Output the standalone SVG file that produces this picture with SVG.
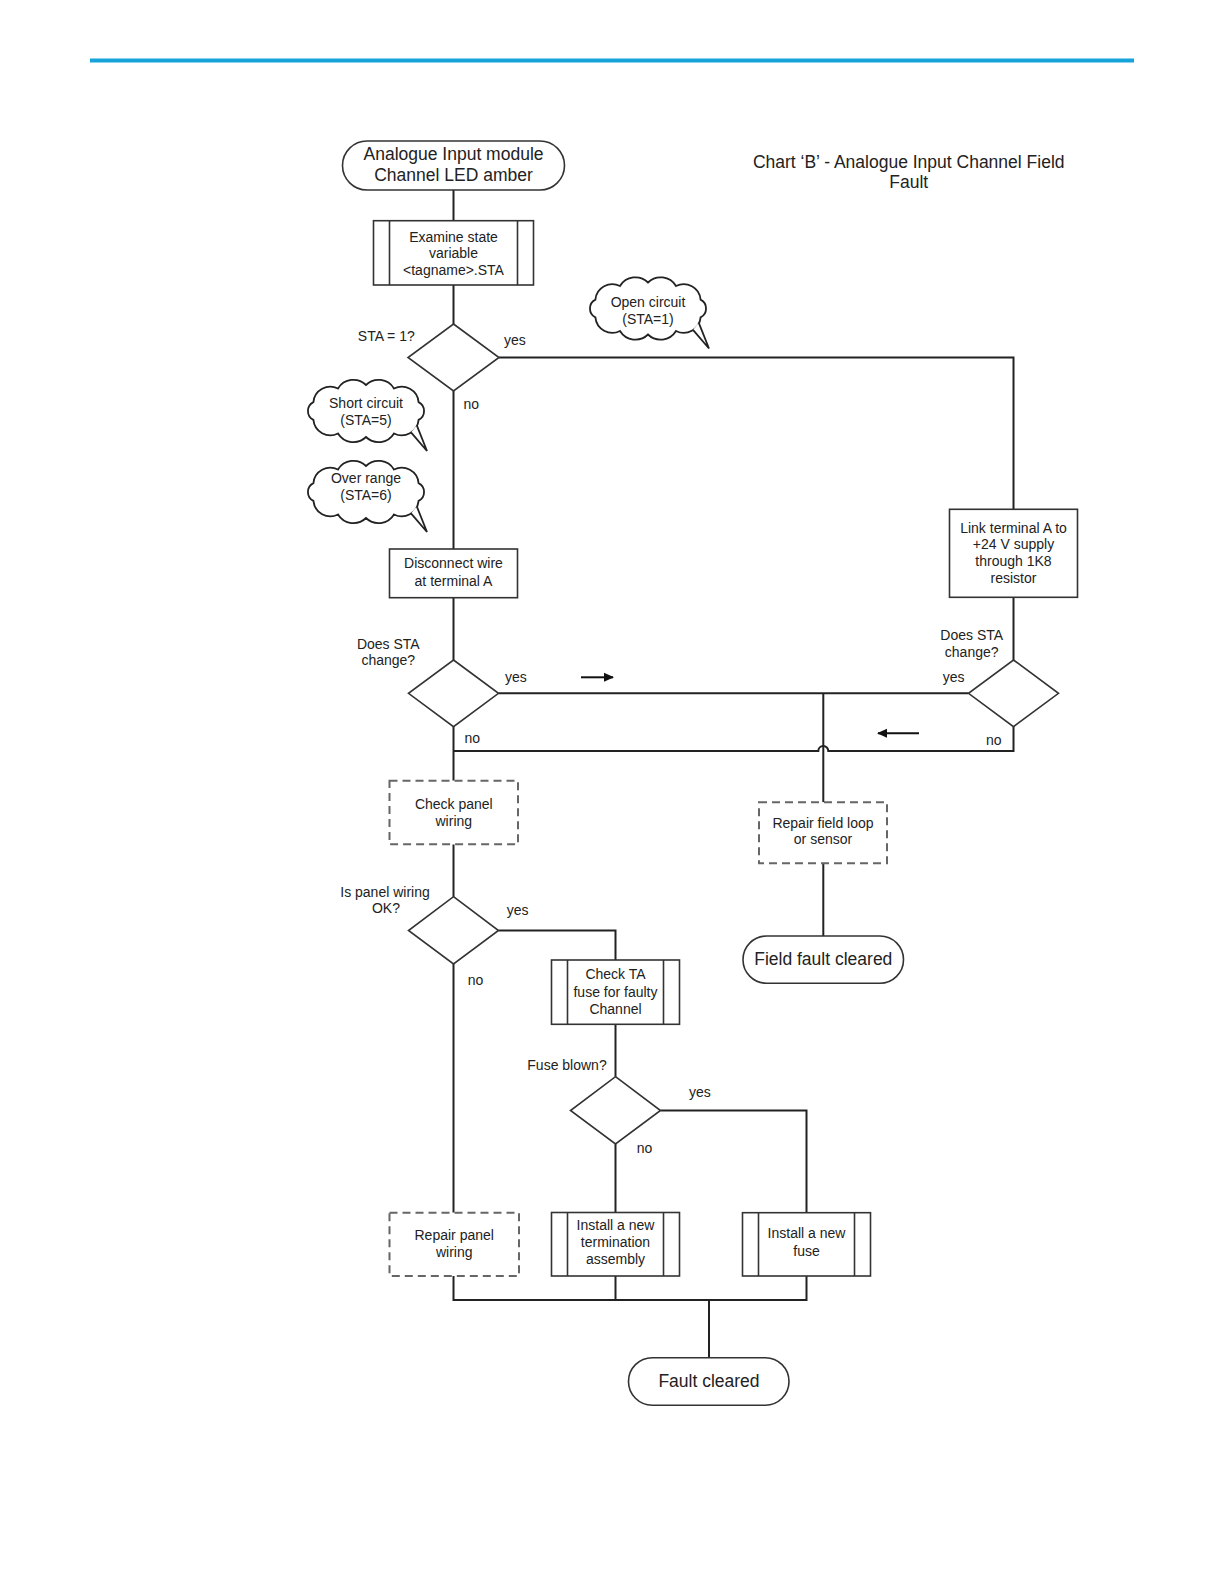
<svg xmlns="http://www.w3.org/2000/svg" width="1224" height="1584" viewBox="0 0 1224 1584">
<defs>
<style>
.ln{fill:none;stroke:#222;stroke-width:2}
.bx{fill:#fff;stroke:#333;stroke-width:1.6}
.ds{fill:#fff;stroke:#666;stroke-width:2;stroke-dasharray:8 5}
.t{font-family:"Liberation Sans",Arial,sans-serif;font-size:14px;fill:#222;text-anchor:middle}
.tl{font-family:"Liberation Sans",Arial,sans-serif;font-size:14px;fill:#222}
.tb{font-family:"Liberation Sans",Arial,sans-serif;font-size:17.5px;fill:#222;text-anchor:middle}
</style>
<path id="cloud" d="M52.6,8.9 A17,17 0 0,1 28,22.5 A18,18 0 0,1 0,26 A18,18 0 0,1 -28,22.5 A17,17 0 0,1 -52.6,8.9 A10,10 0 0,1 -52.6,-8.9 A17,17 0 0,1 -28,-22.5 A18,18 0 0,1 0,-26 A18,18 0 0,1 28,-22.5 A17,17 0 0,1 52.6,-8.9 A10,10 0 0,1 52.6,8.9 Z"/>
<path id="tail" d="M50.7,14.2 L61,40 L45,21.4"/>
<marker id="ah" markerWidth="10" markerHeight="10" refX="9" refY="5" orient="auto" markerUnits="userSpaceOnUse">
<path d="M0,0.5 L10,5 L0,9.5 Z" fill="#111"/>
</marker>
</defs>
<rect width="1224" height="1584" fill="#fff"/>
<line x1="90" y1="60.5" x2="1134" y2="60.5" stroke="#15a3da" stroke-width="4"/>

<g id="connectors">
<path class="ln" d="M453.5,190 V220.7"/>
<path class="ln" d="M453.5,285 V324"/>
<path class="ln" d="M453.5,391 V549"/>
<path class="ln" d="M499,357.5 H1013.5 V509.3"/>
<path class="ln" d="M453.5,597.7 V660"/>
<path class="ln" d="M1013.5,597.3 V660"/>
<path class="ln" d="M498.5,693.3 H968.5"/>
<path class="ln" d="M823.3,693.3 V802.3"/>
<path class="ln" d="M1013.5,726.7 V751 H828.3 A5,5 0 0 0 818.3,751 H453.5"/>
<path class="ln" d="M453.5,726.7 V780.7"/>
<path class="ln" d="M823.3,863.3 V936"/>
<path class="ln" d="M453.5,844.3 V896.7"/>
<path class="ln" d="M453.5,964 V1212.7"/>
<path class="ln" d="M498.5,930.5 H615.5 V960"/>
<path class="ln" d="M615.5,1024.3 V1076.7"/>
<path class="ln" d="M615.5,1144 V1212.5"/>
<path class="ln" d="M660.5,1110.5 H806.5 V1212.7"/>
<path class="ln" d="M453.5,1276 V1300 H806.5 V1276"/>
<path class="ln" d="M615.5,1276 V1300"/>
<path class="ln" d="M709,1300 V1357.7" stroke-width="2.6"/>
<line x1="581" y1="677.3" x2="613" y2="677.3" stroke="#111" stroke-width="2" marker-end="url(#ah)"/>
<line x1="919" y1="733.3" x2="878" y2="733.3" stroke="#111" stroke-width="2" marker-end="url(#ah)"/>
<text class="tl" x="504" y="345">yes</text>
<text class="tl" x="463.5" y="409">no</text>
<text class="tl" x="505" y="681.7">yes</text>
<text class="tl" x="464.5" y="743.3">no</text>
<text class="tl" x="942.7" y="681.7">yes</text>
<text class="tl" x="986" y="745">no</text>
<text class="tl" x="506.7" y="915">yes</text>
<text class="tl" x="467.7" y="985">no</text>
<text class="tl" x="689" y="1097.3">yes</text>
<text class="tl" x="636.7" y="1152.7">no</text>
</g>

<g id="title">
<text class="tb" x="908.7" y="168.3">Chart ‘B’ - Analogue Input Channel Field</text>
<text class="tb" x="908.7" y="188.3">Fault</text>
</g>

<g id="start">
<rect class="bx" x="342.5" y="141" width="222" height="49" rx="24.5" stroke-width="2"/>
<text class="tb" x="453.5" y="160">Analogue Input module</text>
<text class="tb" x="453.5" y="180.5">Channel LED amber</text>
</g>

<g id="examine">
<rect class="bx" x="373.5" y="220.7" width="160" height="64.3"/>
<line class="bx" x1="389.5" y1="220.7" x2="389.5" y2="285"/>
<line class="bx" x1="517.5" y1="220.7" x2="517.5" y2="285"/>
<text class="t" x="453.5" y="241.7">Examine state</text>
<text class="t" x="453.5" y="258.3">variable</text>
<text class="t" x="453.5" y="275">&lt;tagname&gt;.STA</text>
</g>

<g id="d1">
<polygon class="bx" points="453.5,324 499,357.5 453.5,391 408,357.5" stroke="#222" stroke-width="2"/>
<text class="t" x="386.3" y="340.7">STA = 1?</text>
</g>

<g id="cloud-open">
<g transform="translate(648,308.5)">
<use href="#cloud" fill="#fff" stroke="#222" stroke-width="1.8"/>
<use href="#tail" fill="#fff" stroke="#222" stroke-width="1.8"/>
</g>
<text class="t" x="648" y="306.7">Open circuit</text>
<text class="t" x="648" y="324">(STA=1)</text>
</g>

<g id="cloud-short">
<g transform="translate(366,411)">
<use href="#cloud" fill="#fff" stroke="#222" stroke-width="1.8"/>
<use href="#tail" fill="#fff" stroke="#222" stroke-width="1.8"/>
</g>
<text class="t" x="366" y="407.7">Short circuit</text>
<text class="t" x="366" y="425">(STA=5)</text>
</g>

<g id="cloud-over">
<g transform="translate(366,492)">
<use href="#cloud" fill="#fff" stroke="#222" stroke-width="1.8"/>
<use href="#tail" fill="#fff" stroke="#222" stroke-width="1.8"/>
</g>
<text class="t" x="366" y="483.3">Over range</text>
<text class="t" x="366" y="500">(STA=6)</text>
</g>

<g id="disconnect">
<rect class="bx" x="389.5" y="549" width="128" height="48.7"/>
<text class="t" x="453.5" y="568.3">Disconnect wire</text>
<text class="t" x="453.5" y="585.7">at terminal A</text>
</g>

<g id="link">
<rect class="bx" x="949.5" y="509.3" width="128" height="88"/>
<text class="t" x="1013.5" y="532.7">Link terminal A to</text>
<text class="t" x="1013.5" y="549.3">+24 V supply</text>
<text class="t" x="1013.5" y="566">through 1K8</text>
<text class="t" x="1013.5" y="582.7">resistor</text>
</g>

<g id="d2">
<polygon class="bx" points="453.5,660 498.5,693.3 453.5,726.7 408.5,693.3" stroke="#222" stroke-width="2"/>
<text class="t" x="388.3" y="649">Does STA</text>
<text class="t" x="388.3" y="665">change?</text>
</g>

<g id="d-right">
<polygon class="bx" points="1013.5,660 1058.5,693.3 1013.5,726.7 968.5,693.3" stroke="#222" stroke-width="2"/>
<text class="t" x="971.7" y="640">Does STA</text>
<text class="t" x="971.7" y="656.7">change?</text>
</g>

<g id="check-panel">
<rect class="ds" x="389.5" y="780.7" width="128.5" height="63.6"/>
<text class="t" x="453.8" y="809.3">Check panel</text>
<text class="t" x="453.8" y="826">wiring</text>
</g>

<g id="repair-field">
<rect class="ds" x="759" y="802.3" width="128" height="61"/>
<text class="t" x="823" y="828.3">Repair field loop</text>
<text class="t" x="823" y="844">or sensor</text>
</g>

<g id="field-fault-cleared">
<rect class="bx" x="743" y="936" width="160.5" height="47.3" rx="23.6" stroke-width="2"/>
<text class="tb" x="823.3" y="965">Field fault cleared</text>
</g>

<g id="d3">
<polygon class="bx" points="453.5,896.7 498.5,930.5 453.5,964 408.5,930.5" stroke="#222" stroke-width="2"/>
<text class="t" x="385" y="896.7">Is panel wiring</text>
<text class="t" x="386" y="913.3">OK?</text>
</g>

<g id="check-ta">
<rect class="bx" x="551.5" y="960" width="128" height="64.3"/>
<line class="bx" x1="567.5" y1="960" x2="567.5" y2="1024.3"/>
<line class="bx" x1="663.5" y1="960" x2="663.5" y2="1024.3"/>
<text class="t" x="615.5" y="979.3">Check TA</text>
<text class="t" x="615.5" y="996.7">fuse for faulty</text>
<text class="t" x="615.5" y="1014">Channel</text>
</g>

<g id="d4">
<polygon class="bx" points="615.5,1076.7 660.5,1110.5 615.5,1144 570.5,1110.5" stroke="#222" stroke-width="2"/>
<text class="t" x="567" y="1070">Fuse blown?</text>
</g>

<g id="repair-panel">
<rect class="ds" x="389.5" y="1212.7" width="129.5" height="63.3"/>
<text class="t" x="454.2" y="1240">Repair panel</text>
<text class="t" x="454.2" y="1256.7">wiring</text>
</g>

<g id="termination">
<rect class="bx" x="551.5" y="1212.5" width="128" height="63.5"/>
<line class="bx" x1="567.5" y1="1212.5" x2="567.5" y2="1276"/>
<line class="bx" x1="663.5" y1="1212.5" x2="663.5" y2="1276"/>
<text class="t" x="615.5" y="1230">Install a new</text>
<text class="t" x="615.5" y="1247.3">termination</text>
<text class="t" x="615.5" y="1264.3">assembly</text>
</g>

<g id="fuse">
<rect class="bx" x="742.5" y="1212.7" width="128" height="63.3"/>
<line class="bx" x1="758.5" y1="1212.7" x2="758.5" y2="1276"/>
<line class="bx" x1="854.5" y1="1212.7" x2="854.5" y2="1276"/>
<text class="t" x="806.5" y="1238.3">Install a new</text>
<text class="t" x="806.5" y="1256">fuse</text>
</g>

<g id="fault-cleared">
<rect class="bx" x="628.5" y="1357.7" width="160.5" height="47.5" rx="23.7" stroke-width="2"/>
<text class="tb" x="709" y="1387">Fault cleared</text>
</g>
</svg>
